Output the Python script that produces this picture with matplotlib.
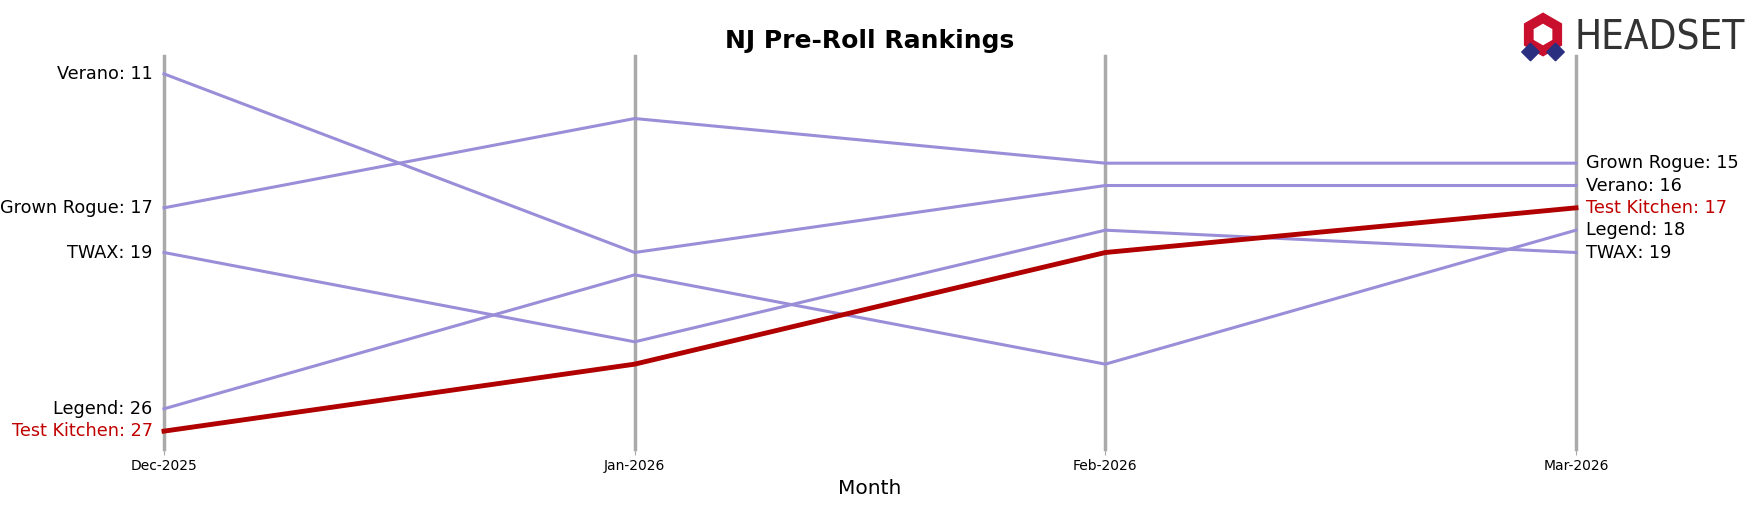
import matplotlib.pyplot as plt
from matplotlib.patches import RegularPolygon

months = ["Dec-2025", "Jan-2026", "Feb-2026", "Mar-2026"]
brands = ["Verano", "Grown Rogue", "TWAX", "Legend", "Test Kitchen"]
ranks = {
    "Verano": [11, 19, 16, 16],
    "Grown Rogue": [17, 13, 15, 15],
    "TWAX": [19, 23, 18, 19],
    "Legend": [26, 20, 24, 18],
    "Test Kitchen": [27, 24, 19, 17],
}
highlight = "Test Kitchen"

W, H = 1759, 507
fig = plt.figure(figsize=(W / 100, H / 100), dpi=100)
ax = fig.add_axes([164 / W, 1 - 449 / H, (1576 - 164) / W, 393 / H])
x = list(range(len(months)))
ax.set_xlim(0, 3)
ax.set_ylim(27.8, 10.2)

for xi in x:
    ax.axvline(xi, color="#aaaaaa", lw=2.5, zorder=1, clip_on=False)

for b in brands:
    y = ranks[b]
    if b == highlight:
        ax.plot(x, y, color="#b00000", lw=3.5, zorder=3, clip_on=False)
        c = "#c00000"
    else:
        ax.plot(x, y, color="#9b8ed8", lw=2.2, zorder=2, clip_on=False)
        c = "black"
    ax.text(-0.024, y[0], f"{b}: {y[0]}", ha="right", va="center", fontsize=12.7, color=c)
    ax.text(3.022, y[-1], f"{b}: {y[-1]}", ha="left", va="center", fontsize=12.7, color=c)

ax.set_xticks(x)
ax.set_xticklabels(months, fontsize=10)
ax.set_yticks([])
ax.tick_params(axis="x", length=4, color="#aaaaaa")
for s in ax.spines.values():
    s.set_visible(False)
ax.set_xlabel("Month", fontsize=14.5)
ax.set_title("NJ Pre-Roll Rankings", fontsize=18, fontweight="bold", pad=6)

# logo
lax = fig.add_axes([1518 / W, 1 - 62 / H, 50 / W, 50 / H])
lax.set_xlim(-1, 1)
lax.set_ylim(-1, 1)
lax.set_aspect("equal")
lax.axis("off")
lax.add_patch(RegularPolygon((0, 0.1), 6, radius=0.85, color="#c8102e"))
lax.add_patch(RegularPolygon((0, 0.1), 6, radius=0.4, color="white"))
lax.add_patch(RegularPolygon((-0.5, -0.6), 4, radius=0.35, color="#2a2f80"))
lax.add_patch(RegularPolygon((0.5, -0.6), 4, radius=0.35, color="#2a2f80"))
fig.text(1574 / W, 1 - 39 / H, "HEADSET", fontsize=29, color="#333333",
         ha="left", va="center", fontstretch="condensed")
fig.savefig("out.png", dpi=100)
